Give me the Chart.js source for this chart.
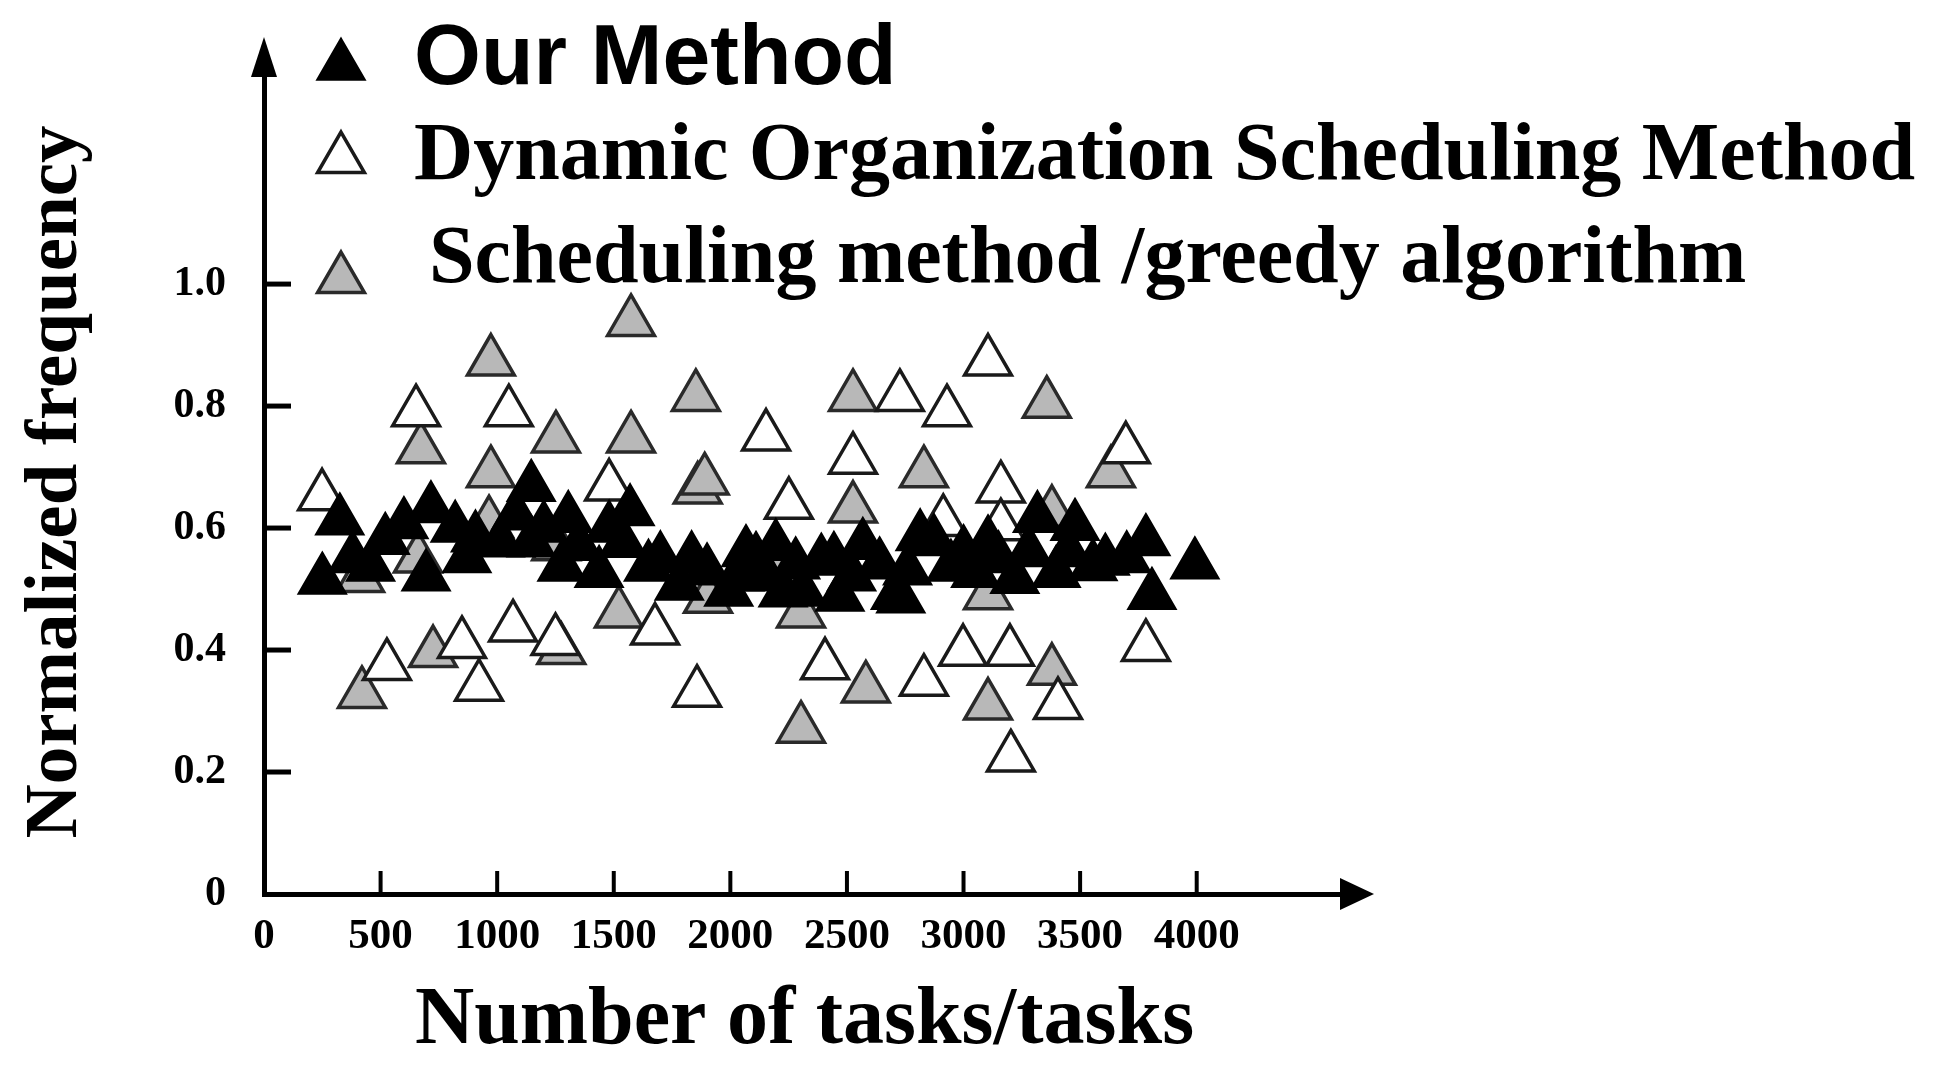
<!DOCTYPE html>
<html lang="en">
<head>
<meta charset="UTF-8">
<title>Normalized frequency vs number of tasks</title>
<script src="https://cdn.jsdelivr.net/npm/chart.js"></script>
<style>
  html, body { margin: 0; padding: 0; background: #fff; }
  #wrap { width: 1937px; height: 1072px; }
</style>
</head>
<body>
<div id="wrap"><canvas id="freqChart" width="1937" height="1072"></canvas></div>
<script>
// series names as in the legend
const seriesNames = ['Our Method', 'Dynamic Organization Scheduling Method', 'Scheduling method /greedy algorithm'];

const xTicks = [0, 500, 1000, 1500, 2000, 2500, 3000, 3500, 4000];
const yTicks = [0, 0.2, 0.4, 0.6, 0.8, 1.0];

// Our Method (black)
const ourX = [250, 325, 380, 457, 520, 600, 695, 716, 820, 870, 907, 1013, 1080, 1146, 1146, 1200, 1278, 1305, 1350, 1437, 1480, 1540, 1570, 1649, 1700, 1781, 1834, 1900, 1993, 2040, 2067, 2110, 2150, 2195, 2226, 2280, 2311, 2390, 2444, 2470, 2520, 2568, 2640, 2708, 2731, 2760, 2814, 2873, 2946, 3000, 3052, 3105, 3150, 3220, 3280, 3317, 3397, 3450, 3478, 3555, 3608, 3700, 3782, 3808, 3992];
const ourY = [0.515, 0.612, 0.55, 0.536, 0.58, 0.606, 0.52, 0.632, 0.6, 0.55, 0.584, 0.576, 0.62, 0.667, 0.576, 0.6, 0.536, 0.616, 0.57, 0.526, 0.6, 0.575, 0.627, 0.536, 0.55, 0.505, 0.55, 0.53, 0.495, 0.52, 0.56, 0.549, 0.52, 0.57, 0.494, 0.54, 0.495, 0.546, 0.549, 0.487, 0.52, 0.572, 0.54, 0.49, 0.484, 0.53, 0.586, 0.578, 0.536, 0.56, 0.526, 0.576, 0.55, 0.516, 0.56, 0.616, 0.526, 0.56, 0.603, 0.537, 0.546, 0.55, 0.578, 0.49, 0.54];

// Dynamic Organization Scheduling Method (white)
const dosX = [249, 527, 652, 849, 922, 1050, 1068, 1250, 1480, 1677, 1857, 2153, 2251, 2406, 2526, 2727, 2830, 2913, 2929, 2998, 3105, 3160, 3160, 3199, 3203, 3405, 3696, 3782];
const dosY = [0.652, 0.374, 0.79, 0.41, 0.34, 0.79, 0.437, 0.415, 0.668, 0.432, 0.33, 0.75, 0.638, 0.375, 0.712, 0.815, 0.348, 0.61, 0.79, 0.397, 0.873, 0.665, 0.603, 0.397, 0.224, 0.31, 0.729, 0.405];

// Scheduling method /greedy algorithm (grey)
const greedyX = [412, 420, 660, 673, 725, 965, 973, 973, 1252, 1253, 1275, 1522, 1574, 1574, 1852, 1860, 1890, 1904, 2190, 2303, 2303, 2526, 2526, 2581, 2830, 3105, 3105, 3357, 3379, 3379, 3632];
const greedyY = [0.518, 0.328, 0.55, 0.729, 0.395, 0.608, 0.873, 0.69, 0.747, 0.57, 0.40, 0.46, 0.938, 0.747, 0.815, 0.663, 0.678, 0.484, 0.555, 0.46, 0.271, 0.815, 0.632, 0.337, 0.69, 0.309, 0.49, 0.804, 0.625, 0.366, 0.69];

const toPoints = (xs, ys) => xs.map((x, i) => ({ x: x, y: ys[i] }));

const serif = '"Liberation Serif", "Times New Roman", serif';
const sans = '"Liberation Sans", Arial, sans-serif';

function triangle(ctx, x, y, r, fill, stroke, lw) {
    ctx.save();
    ctx.beginPath();
    let a = 0;
    for (let k = 0; k < 3; k++) {
        const px = x + Math.sin(a) * r, py = y - Math.cos(a) * r;
        if (k === 0) ctx.moveTo(px, py); else ctx.lineTo(px, py);
        a += Math.PI * 2 / 3;
    }
    ctx.closePath();
    ctx.fillStyle = fill;
    ctx.fill();
    ctx.lineWidth = lw;
    ctx.strokeStyle = stroke;
    ctx.stroke();
    ctx.restore();
}

// inward tick marks and arrow heads on both axes
const axisDecor = {
    id: 'axisDecor',
    beforeDatasetsDraw(chart) {
        const { ctx, chartArea: a, scales: { x, y } } = chart;
        ctx.save();
        ctx.strokeStyle = '#000';
        ctx.lineWidth = 5;
        yTicks.filter(v => v > 0).forEach(v => {
            const py = y.getPixelForValue(v);
            ctx.beginPath(); ctx.moveTo(a.left, py); ctx.lineTo(a.left + 27, py); ctx.stroke();
        });
        ctx.lineWidth = 4;
        xTicks.filter(v => v > 0).forEach(v => {
            const px = x.getPixelForValue(v);
            ctx.beginPath(); ctx.moveTo(px, a.bottom); ctx.lineTo(px, a.bottom - 23); ctx.stroke();
        });
        ctx.fillStyle = '#000';
        // y arrow
        ctx.beginPath();
        ctx.moveTo(a.left, a.top - 33);
        ctx.lineTo(a.left - 13, a.top + 7);
        ctx.lineTo(a.left + 13, a.top + 7);
        ctx.closePath(); ctx.fill();
        // x arrow
        ctx.beginPath();
        ctx.moveTo(a.right + 29, a.bottom);
        ctx.lineTo(a.right - 5, a.bottom - 16);
        ctx.lineTo(a.right - 5, a.bottom + 16);
        ctx.closePath(); ctx.fill();
        ctx.restore();
    }
};

// legend drawn in the upper part of the plot, one row per series
const cornerLegend = {
    id: 'cornerLegend',
    afterDraw(chart) {
        const ctx = chart.ctx;
        const rows = [
            { mx: 341, my: 66, tx: 414, ty: 84, font: 'bold 86px ' + sans },
            { mx: 341, my: 159, tx: 414, ty: 179, font: 'bold 82px ' + serif },
            { mx: 341, my: 279, tx: 429, ty: 282, font: 'bold 82px ' + serif }
        ];
        chart.data.datasets.forEach((ds, i) => {
            const r = rows[i];
            triangle(ctx, r.mx, r.my, ds.pointRadius, ds.backgroundColor, ds.borderColor, ds.borderWidth);
            ctx.save();
            ctx.font = r.font;
            ctx.fillStyle = '#000';
            ctx.textBaseline = 'alphabetic';
            ctx.textAlign = 'left';
            ctx.fillText(ds.label, r.tx, r.ty);
            ctx.restore();
        });
    }
};

new Chart(document.getElementById('freqChart').getContext('2d'), {
    type: 'scatter',
    data: {
        datasets: [
            { label: seriesNames[0], data: toPoints(ourX, ourY), pointStyle: 'triangle', pointRadius: 27,
              backgroundColor: '#000', borderColor: '#000', borderWidth: 2.5, order: 0 },
            { label: seriesNames[1], data: toPoints(dosX, dosY), pointStyle: 'triangle', pointRadius: 27,
              backgroundColor: '#fff', borderColor: '#1a1a1a', borderWidth: 3.5, order: 1 },
            { label: seriesNames[2], data: toPoints(greedyX, greedyY), pointStyle: 'triangle', pointRadius: 27,
              backgroundColor: '#b8b8b8', borderColor: '#2a2a2a', borderWidth: 3.5, order: 2 }
        ]
    },
    options: {
        responsive: false,
        animation: false,
        events: [],
        layout: { padding: { left: 0, right: 592, top: 70, bottom: 0 } },
        plugins: { legend: { display: false }, tooltip: { enabled: false } },
        elements: { point: { hoverRadius: 27 } },
        scales: {
            x: {
                type: 'linear', min: 0, max: 4636,
                afterBuildTicks: s => { s.ticks = xTicks.map(v => ({ value: v })); },
                afterFit: s => { s.height = 178; },
                grid: { display: false, drawTicks: false },
                border: { display: true, color: '#000', width: 5 },
                ticks: { color: '#000', padding: 17, maxRotation: 0, autoSkip: false,
                         font: { family: serif, size: 43, weight: 'bold' }, callback: v => String(v) },
                title: { display: true, text: 'Number of tasks/tasks', color: '#000',
                         font: { family: serif, size: 82, weight: 'bold', lineHeight: 1.2 },
                         padding: { top: 0, bottom: 1 } }
            },
            y: {
                type: 'linear', min: 0, max: 1.351,
                afterBuildTicks: s => { s.ticks = yTicks.map(v => ({ value: v })); },
                afterFit: s => { s.width = 264; },
                grid: { display: false, drawTicks: false },
                border: { display: true, color: '#000', width: 5 },
                ticks: { color: '#000', padding: 38, autoSkip: false,
                         font: { family: serif, size: 42, weight: 'bold' },
                         callback: v => v === 0 ? '0' : v.toFixed(1) },
                title: { display: true, text: 'Normalized frequency', color: '#000',
                         font: { family: serif, size: 75, weight: 'bold', lineHeight: 1.2 },
                         padding: { top: 12, bottom: 0 } }
            }
        }
    },
    plugins: [axisDecor, cornerLegend]
});
</script>
</body>
</html>
